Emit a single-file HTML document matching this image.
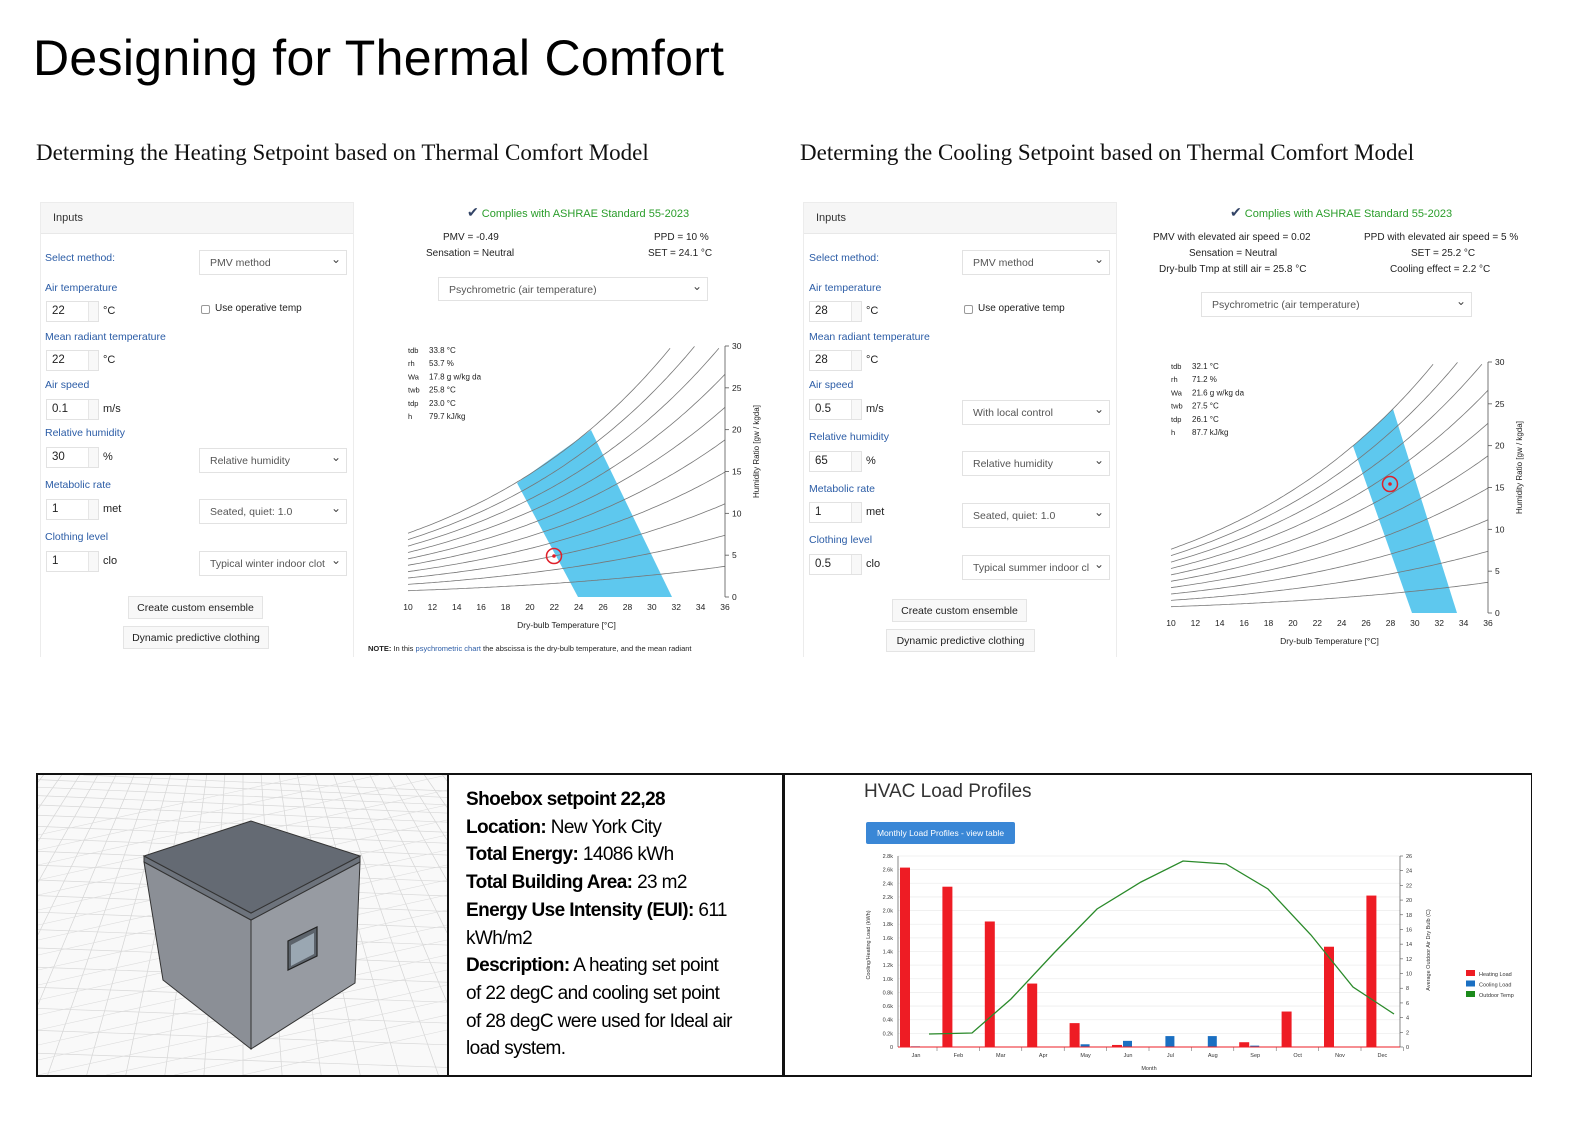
<!DOCTYPE html>
<html><head><meta charset="utf-8">
<meta name="viewport" content="width=1587">
<style>
*{margin:0;padding:0;box-sizing:border-box}
html,body{width:1587px;height:1123px;overflow:hidden;background:#fff}
#w{position:relative;width:1587px;height:1123px;overflow:hidden;contain:strict;font-family:"Liberation Sans",sans-serif}
.a{position:absolute;white-space:nowrap}
.t{font-size:50px;color:#000;left:33px;top:28px;letter-spacing:0.3px;line-height:60px}
.h2{font-family:"Liberation Serif",serif;font-size:23px;color:#111;top:139px;line-height:27px}
.panel{position:absolute;border:1px solid #ececec;border-bottom:none;background:#fff}
.ph{position:absolute;left:0;top:0;right:0;height:31px;background:#f6f6f6;border-bottom:1px solid #e8e8e8;font-size:11px;color:#333;padding:9px 0 0 12px}
.lb{position:absolute;font-size:10.5px;color:#2b5ca6;white-space:nowrap}
.in{position:absolute;width:53px;height:21px;border:1px solid #e2e2e2;font-size:11.5px;color:#222;padding:3px 0 0 5px;background:#fff;overflow:hidden}
.in:after{content:"";position:absolute;right:0;top:0;width:9px;height:19px;border-left:1px solid #e6e6e6;background:#f8f8f8}
.un{position:absolute;font-size:11px;color:#222}
.sel{position:absolute;width:148px;height:25px;border:1px solid #e2e2e2;font-size:10.5px;color:#555;padding:6px 0 0 10px;background:#fff;white-space:nowrap;overflow:hidden}
.sel:after{content:"⌄";position:absolute;right:5px;top:1px;font-size:12px;line-height:14px;color:#444}
.btn{position:absolute;height:23px;border:1px solid #e4e4e4;background:#f8f8f8;font-size:10.5px;color:#222;text-align:center;padding-top:5px;white-space:nowrap}
.s10{font-size:10px;color:#222}
.bx{font-size:19px;color:#000;line-height:27.7px;letter-spacing:-0.6px}
.bx b{font-weight:bold}
svg{overflow:hidden;display:block}
</style></head><body><div id="w">

<div class="a t">Designing for Thermal Comfort</div>
<div class="a h2" style="left:36px">Determing the Heating Setpoint based on Thermal Comfort Model</div>
<div class="a h2" style="left:800px">Determing the Cooling Setpoint based on Thermal Comfort Model</div>

<div class="panel" style="left:40px;top:202px;width:314px;height:455px"><div class="ph">Inputs</div></div>
<div class="lb" style="left:45px;top:252px">Select method:</div>
<div class="sel" style="left:199px;top:250px">PMV method</div>
<div class="lb" style="left:45px;top:282px">Air temperature</div>
<div class="in" style="left:46px;top:301px">22</div><div class="un" style="left:103px;top:305px">°C</div>
<div class="a" style="left:201px;top:305px;width:9px;height:9px;border:1px solid #999;border-radius:2px"></div>
<div class="a s10" style="left:215px;top:303px">Use operative temp</div>
<div class="lb" style="left:45px;top:331px">Mean radiant temperature</div>
<div class="in" style="left:46px;top:350px">22</div><div class="un" style="left:103px;top:354px">°C</div>
<div class="lb" style="left:45px;top:379px">Air speed</div>
<div class="in" style="left:46px;top:399px">0.1</div><div class="un" style="left:103px;top:403px">m/s</div>
<div class="lb" style="left:45px;top:427px">Relative humidity</div>
<div class="in" style="left:46px;top:447px">30</div><div class="un" style="left:103px;top:451px">%</div>
<div class="sel" style="left:199px;top:448px">Relative humidity</div>
<div class="lb" style="left:45px;top:479px">Metabolic rate</div>
<div class="in" style="left:46px;top:499px">1</div><div class="un" style="left:103px;top:503px">met</div>
<div class="sel" style="left:199px;top:499px">Seated, quiet: 1.0</div>
<div class="lb" style="left:45px;top:531px">Clothing level</div>
<div class="in" style="left:46px;top:551px">1</div><div class="un" style="left:103px;top:555px">clo</div>
<div class="sel" style="left:199px;top:551px">Typical winter indoor clot</div>
<div class="btn" style="left:128px;top:596px;width:135px">Create custom ensemble</div>
<div class="btn" style="left:123px;top:626px;width:146px">Dynamic predictive clothing</div>

<div class="a" style="left:467px;top:204px;font-size:11px;color:#2a9d2a"><span style="color:#346;font-size:14px">✔</span> Complies with ASHRAE Standard 55-2023</div>
<div class="a s10" style="left:443px;top:232px">PMV = -0.49</div>
<div class="a s10" style="left:426px;top:248px">Sensation = Neutral</div>
<div class="a s10" style="left:654px;top:232px">PPD = 10 %</div>
<div class="a s10" style="left:648px;top:248px">SET = 24.1 °C</div>
<div class="sel" style="left:438px;top:277px;width:270px;height:24px">Psychrometric (air temperature)</div>
<div class="a" style="left:368px;top:644px;font-size:7.5px;color:#222"><b>NOTE:</b> In this <span style="color:#2b5ca6">psychrometric chart</span> the abscissa is the dry-bulb temperature, and the mean radiant</div>

<div class="panel" style="left:803px;top:202px;width:314px;height:455px"><div class="ph">Inputs</div></div>
<div class="lb" style="left:809px;top:252px">Select method:</div>
<div class="sel" style="left:962px;top:250px">PMV method</div>
<div class="lb" style="left:809px;top:282px">Air temperature</div>
<div class="in" style="left:809px;top:301px">28</div><div class="un" style="left:866px;top:305px">°C</div>
<div class="a" style="left:964px;top:305px;width:9px;height:9px;border:1px solid #999;border-radius:2px"></div>
<div class="a s10" style="left:978px;top:303px">Use operative temp</div>
<div class="lb" style="left:809px;top:331px">Mean radiant temperature</div>
<div class="in" style="left:809px;top:350px">28</div><div class="un" style="left:866px;top:354px">°C</div>
<div class="lb" style="left:809px;top:379px">Air speed</div>
<div class="in" style="left:809px;top:399px">0.5</div><div class="un" style="left:866px;top:403px">m/s</div>
<div class="sel" style="left:962px;top:400px">With local control</div>
<div class="lb" style="left:809px;top:431px">Relative humidity</div>
<div class="in" style="left:809px;top:451px">65</div><div class="un" style="left:866px;top:455px">%</div>
<div class="sel" style="left:962px;top:451px">Relative humidity</div>
<div class="lb" style="left:809px;top:483px">Metabolic rate</div>
<div class="in" style="left:809px;top:502px">1</div><div class="un" style="left:866px;top:506px">met</div>
<div class="sel" style="left:962px;top:503px">Seated, quiet: 1.0</div>
<div class="lb" style="left:809px;top:534px">Clothing level</div>
<div class="in" style="left:809px;top:554px">0.5</div><div class="un" style="left:866px;top:558px">clo</div>
<div class="sel" style="left:962px;top:555px">Typical summer indoor cl</div>
<div class="btn" style="left:892px;top:599px;width:135px">Create custom ensemble</div>
<div class="btn" style="left:886px;top:629px;width:149px">Dynamic predictive clothing</div>

<div class="a" style="left:1230px;top:204px;font-size:11px;color:#2a9d2a"><span style="color:#346;font-size:14px">✔</span> Complies with ASHRAE Standard 55-2023</div>
<div class="a s10" style="left:1153px;top:232px">PMV with elevated air speed = 0.02</div>
<div class="a s10" style="left:1189px;top:248px">Sensation = Neutral</div>
<div class="a s10" style="left:1159px;top:264px">Dry-bulb Tmp at still air = 25.8 °C</div>
<div class="a s10" style="left:1364px;top:232px">PPD with elevated air speed = 5 %</div>
<div class="a s10" style="left:1411px;top:248px">SET = 25.2 °C</div>
<div class="a s10" style="left:1390px;top:264px">Cooling effect = 2.2 °C</div>
<div class="sel" style="left:1201px;top:292px;width:271px;height:25px">Psychrometric (air temperature)</div>

<svg id="psy" class="a" style="left:0;top:0" width="1587" height="700" font-family="Liberation Sans, sans-serif"></svg>

<div class="a" style="left:36px;top:773px;width:1496px;height:304px;border:2px solid #111;border-right:1px solid #111"></div>
<div class="a" style="left:447px;top:773px;width:2px;height:304px;background:#111"></div>
<div class="a" style="left:782px;top:773px;width:3px;height:304px;background:#111"></div>
<svg class="a" style="left:38px;top:775px" width="409" height="300" id="shoe"></svg>

<div class="a bx" style="left:466px;top:786px"><b>Shoebox setpoint 22,28</b><br><b>Location:</b> New York City<br><b>Total Energy:</b> 14086 kWh<br><b>Total Building Area:</b> 23 m2<br><b>Energy Use Intensity (EUI):</b> 611<br>kWh/m2<br><b>Description:</b> A heating set point<br>of 22 degC and cooling set point<br>of 28 degC were used for Ideal air<br>load system.</div>

<div class="a" style="left:864px;top:781px;font-size:19px;color:#333">HVAC Load Profiles</div>
<div class="a" style="left:866px;top:822px;width:149px;height:22px;background:#3a87d6;border-radius:2px;color:#fff;font-size:8.5px;text-align:center;padding-top:6px">Monthly Load Profiles - view table</div>
<svg id="hv" class="a" style="left:0;top:0" width="1587" height="1080" font-family="Liberation Sans, sans-serif"></svg>
</div>
<script>
var NS="http://www.w3.org/2000/svg";
function el(p,t,a,txt){var e=document.createElementNS(NS,t);for(var k in a)e.setAttribute(k,a[k]);if(txt!=null)e.textContent=txt;p.appendChild(e);return e;}
var psy=document.getElementById('psy');
function chart(x0,x1,y0,y30,poly,pt,info){
  var sx=(x1-x0)/26, sy=(y0-y30)/30;
  el(psy,'polygon',{points:poly,fill:'#5ec8ee'});
  for(var r=1;r<=10;r++){
    var rh=r/10,d='';
    for(var T=10;T<=36;T+=0.25){
      var pws=0.61078*Math.exp(17.27*T/(T+237.3));
      var W=622*rh*pws/(101.325-rh*pws);
      if(W>30)break;
      d+=(d?'L':'M')+(x0+(T-10)*sx).toFixed(1)+','+(y0-W*sy).toFixed(1);
    }
    el(psy,'path',{d:d,fill:'none',stroke:'#777','stroke-width':0.8});
  }
  el(psy,'line',{x1:x1,y1:y30,x2:x1,y2:y0,stroke:'#555','stroke-width':0.8});
  for(var v=0;v<=30;v+=5){var y=y0-v*sy;el(psy,'line',{x1:x1,x2:x1+4,y1:y,y2:y,stroke:'#555','stroke-width':0.8});
    el(psy,'text',{x:x1+7,y:y+3,'font-size':8.5,fill:'#222'},v);}
  for(var T=10;T<=36;T+=2){el(psy,'text',{x:x0+(T-10)*sx,y:y0+13,'font-size':8.5,fill:'#222','text-anchor':'middle'},T);}
  el(psy,'text',{x:(x0+x1)/2,y:y0+31,'font-size':8.5,fill:'#222','text-anchor':'middle'},'Dry-bulb Temperature [°C]');
  el(psy,'text',{x:0,y:0,'font-size':8,fill:'#222','text-anchor':'middle',transform:'translate('+(x1+34)+','+((y0+y30)/2-20)+') rotate(-90)'},'Humidity Ratio [gw / kgda]');
  el(psy,'circle',{cx:pt[0],cy:pt[1],r:7.5,fill:'none',stroke:'#e0202a','stroke-width':1.5});
  el(psy,'circle',{cx:pt[0],cy:pt[1],r:1.8,fill:'#e0202a'});
  var names=['tdb','rh','Wa','twb','tdp','h'];
  for(var i=0;i<6;i++){var y=y30+7+i*13.2;
    el(psy,'text',{x:x0,y:y,'font-size':7.5,fill:'#222'},names[i]);
    el(psy,'text',{x:x0+21,y:y,'font-size':8,fill:'#222'},info[i]);}
}
chart(408,725,597,346,'517,483 591,430 672,597 578,597',[554,556],['33.8  °C','53.7  %','17.8  g w/kg da','25.8  °C','23.0  °C','79.7  kJ/kg']);
chart(1171,1488,613,362,'1353,446 1393,409 1457,613 1412,613',[1390,484],['32.1  °C','71.2  %','21.6  g w/kg da','27.5  °C','26.1  °C','87.7  kJ/kg']);

var sh=document.getElementById('shoe');
var SW=409,SH=300;
function cl(x1,y1,x2,y2,st,w){
  var t0=0,t1=1,dx=x2-x1,dy=y2-y1,p=[-dx,dx,-dy,dy],q=[x1,SW-x1,y1,SH-y1];
  for(var i=0;i<4;i++){if(p[i]==0){if(q[i]<0)return;}else{var r=q[i]/p[i];if(p[i]<0){if(r>t1)return;if(r>t0)t0=r;}else{if(r<t0)return;if(r<t1)t1=r;}}}
  el(sh,'line',{x1:x1+t0*dx,y1:y1+t0*dy,x2:x1+t1*dx,y2:y1+t1*dy,stroke:st,'stroke-width':w});
}
el(sh,'rect',{x:0,y:0,width:SW,height:SH,fill:'#f9f9f9'});
for(var i=-30;i<=30;i++){cl(205,-260,205+i*60,600,'#d4d4d4',0.7);}
for(var j=0;j<26;j++){var y=8+j*j*0.45+j*6;cl(0,y-10+j*0.2,409,y+8,'#d8d8d8',0.7);}
for(var j=0;j<20;j++){var y=20+j*15;cl(0,y+40,409,y-50,'#dcdcdc',0.6);}
function P(s){return s.split(' ').map(function(q){var c=q.split(',');return (c[0]-38)+','+(c[1]-775)}).join(' ');}
el(sh,'polygon',{points:P('144,862 251,920 251,1049 163,980'),fill:'#8b8f96',stroke:'#333','stroke-width':1});
el(sh,'polygon',{points:P('251,920 360,862 355,983 251,1049'),fill:'#979ba2',stroke:'#333','stroke-width':1});
el(sh,'polygon',{points:P('144,856 251,913 360,856 360,862 251,920 144,862'),fill:'#6d737c',stroke:'#333','stroke-width':1});
el(sh,'polygon',{points:P('251,821 144,856 251,913 360,856'),fill:'#646a73',stroke:'#333','stroke-width':1});
el(sh,'polygon',{points:P('288,941 317,927 317,956 288,970'),fill:'#5c636b',stroke:'#222','stroke-width':1.2});
el(sh,'polygon',{points:P('291,945 314,933 314,954 291,966'),fill:'#9aa7b2'});

var hv=document.getElementById('hv');
var yb=1047,yt=856,k=(yb-yt)/2.8;
for(var v=0;v<=2.8001;v+=0.2){var y=yb-v*k;
  el(hv,'line',{x1:898,x2:1400,y1:y,y2:y,stroke:'#eee','stroke-width':0.8});
  el(hv,'text',{x:893,y:y+2,'font-size':5.5,fill:'#333','text-anchor':'end'},v<0.01?'0':(v.toFixed(1)+'k'));}
for(var t=0;t<=26;t+=2){var y=yb-t*(yb-yt)/26;el(hv,'text',{x:1406,y:y+2,'font-size':5.5,fill:'#333'},t);
  el(hv,'line',{x1:1400,x2:1403,y1:y,y2:y,stroke:'#555','stroke-width':0.6});}
el(hv,'line',{x1:898,x2:898,y1:yt,y2:yb,stroke:'#555','stroke-width':0.7});
el(hv,'line',{x1:1400,x2:1400,y1:yt,y2:yb,stroke:'#555','stroke-width':0.7});
var M=['Jan','Feb','Mar','Apr','May','Jun','Jul','Aug','Sep','Oct','Nov','Dec'];
var H=[2.63,2.35,1.84,0.93,0.35,0.03,0,0,0.07,0.52,1.47,2.22];
var C=[0.01,0,0,0,0.04,0.09,0.16,0.16,0.02,0,0,0];
for(var i=0;i<12;i++){var cx=916+i*42.4;
  if(H[i]>0)el(hv,'rect',{x:cx-16,y:yb-H[i]*k,width:10,height:H[i]*k,fill:'#ee1c24'});
  if(C[i]>0)el(hv,'rect',{x:cx-5,y:yb-C[i]*k,width:9,height:C[i]*k,fill:'#1a6fc2'});
  el(hv,'text',{x:cx,y:yb+10,'font-size':5.5,fill:'#333','text-anchor':'middle'},M[i]);
  el(hv,'line',{x1:cx+21,x2:cx+21,y1:yb,y2:yb+4,stroke:'#555','stroke-width':0.5});}
el(hv,'line',{x1:898,x2:1400,y1:yb,y2:yb,stroke:'#ee1c24','stroke-width':1});
el(hv,'polyline',{points:'929,1034 972,1033 1011,999 1054,953 1097,909 1141,882 1183,861 1226,864 1268,889 1311,935 1353,987 1394,1014',fill:'none',stroke:'#2a8a2a','stroke-width':1.3});
el(hv,'text',{x:1149,y:1070,'font-size':5.5,fill:'#333','text-anchor':'middle'},'Month');
el(hv,'text',{x:0,y:0,'font-size':5.5,fill:'#333','text-anchor':'middle',transform:'translate(870,945) rotate(-90)'},'Cooling/Heating Load (kWh)');
el(hv,'text',{x:0,y:0,'font-size':5.5,fill:'#333','text-anchor':'middle',transform:'translate(1430,950) rotate(-90)'},'Average Outdoor Air Dry Bulb (C)');
var L=[['#ee1c24','Heating Load'],['#1a6fc2','Cooling Load'],['#1b8a1b','Outdoor Temp']];
for(var i=0;i<3;i++){el(hv,'rect',{x:1466,y:970+i*10.5,width:9,height:6,fill:L[i][0]});
  el(hv,'text',{x:1479,y:976+i*10.5,'font-size':5.5,fill:'#333'},L[i][1]);}
</script>
</body></html>
